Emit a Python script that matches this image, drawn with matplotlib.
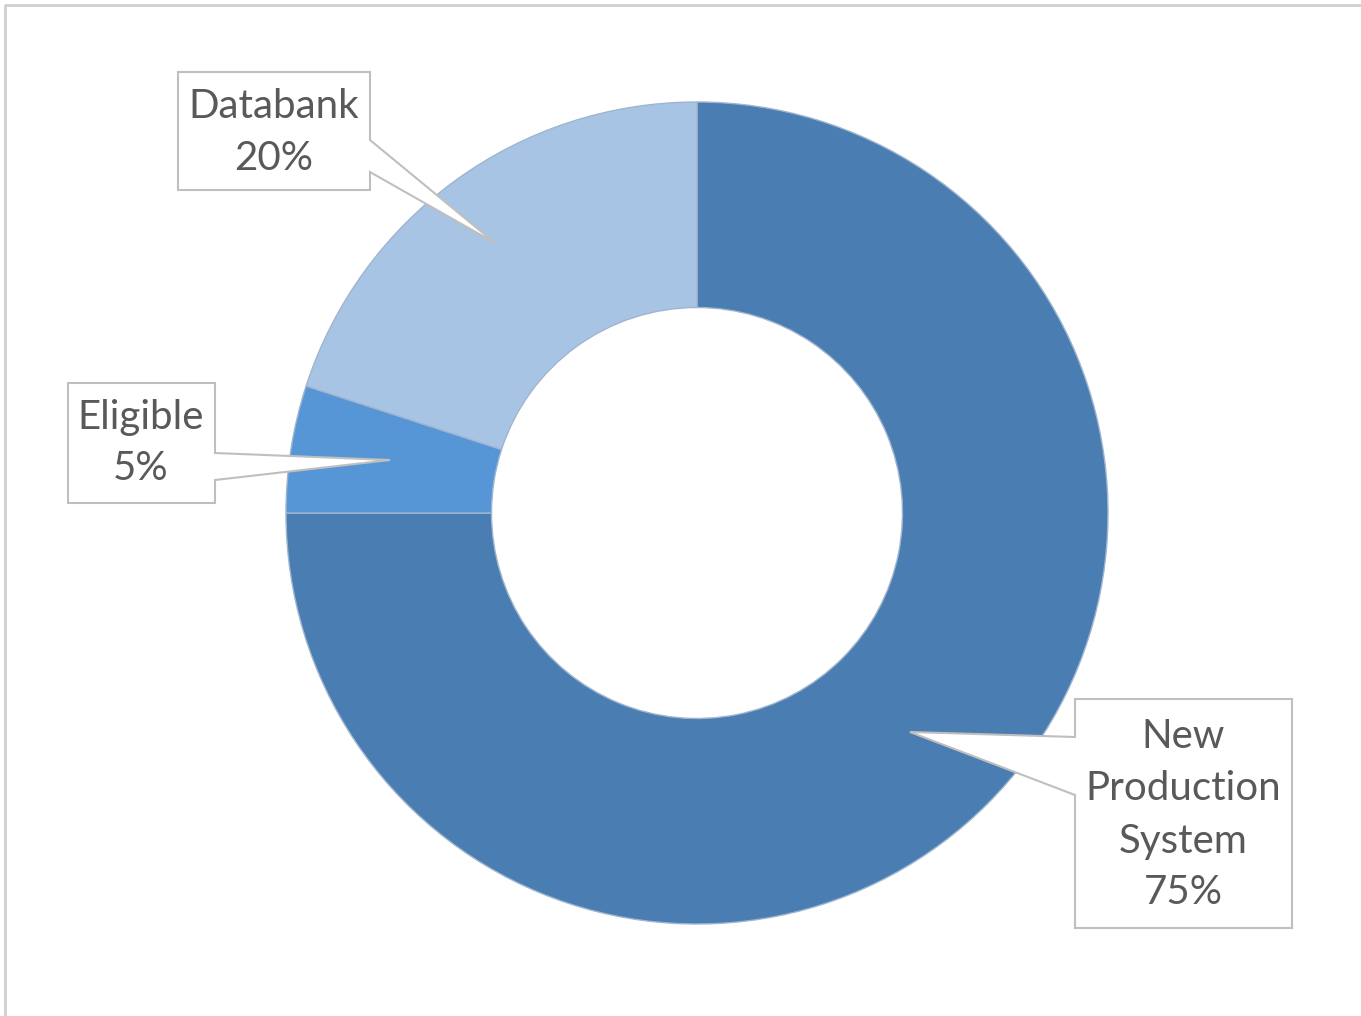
import matplotlib.pyplot as plt
from matplotlib.patches import Polygon

# data
labels = ["New\nProduction\nSystem", "Eligible", "Databank"]
values = [75, 5, 20]
colors = ["#4a7db1", "#5796d6", "#a8c4e5"]

W, H = 1361, 1016

fig = plt.figure(figsize=(W / 100, H / 100), dpi=100)
ax = fig.add_axes([0, 0, 1, 1])

def fy(y):
    # pixel row -> data y
    return H - y

cx, cy, R = 697, fy(513), 411
wedges, _ = ax.pie(values, colors=colors, startangle=90, counterclock=False,
                   center=(cx, cy), radius=R, frame=True,
                   wedgeprops=dict(width=R * 0.5, edgecolor="#9fb5cf", lw=1.0))
ax.set_xlim(0, W)
ax.set_ylim(0, H)
ax.set_aspect("equal")
ax.axis("off")

# faint chart border, only top and left edges show
ax.plot([5, 5, W], [0, fy(5), fy(5)], color="#cfcfcf", lw=2)

# callouts: box (l, t, r, b), pointer (upper y, tip x, tip y, lower y)
callouts = [
    dict(box=(1075, 699, 1292, 928), ptr=(737, 910, 732, 795), side="left",
         text_xy=(1183, 815)),
    dict(box=(68, 383, 215, 503), ptr=(453, 390, 460, 480), side="right",
         text_xy=(141, 443)),
    dict(box=(178, 72, 370, 190), ptr=(140, 495, 243, 172), side="right",
         text_xy=(274, 132)),
]

for lab, val, c in zip(labels, values, callouts):
    l, t, r, b = c["box"]
    uy, tx, ty, ly = c["ptr"]
    if c["side"] == "right":
        pts = [(l, t), (r, t), (r, uy), (tx, ty), (r, ly), (r, b), (l, b)]
    else:
        pts = [(l, t), (r, t), (r, b), (l, b), (l, ly), (tx, ty), (l, uy)]
    pts = [(x, fy(y)) for x, y in pts]
    ax.add_patch(Polygon(pts, closed=True, facecolor="white",
                         edgecolor="#bfbfbf", lw=1.5, zorder=5))
    x, y = c["text_xy"]
    ax.text(x, fy(y), f"{lab}\n{val}%", ha="center", va="center",
            fontsize=29, family="Lato", color="#595959",
            linespacing=1.5, zorder=6)

fig.savefig("out.png", dpi=100)
